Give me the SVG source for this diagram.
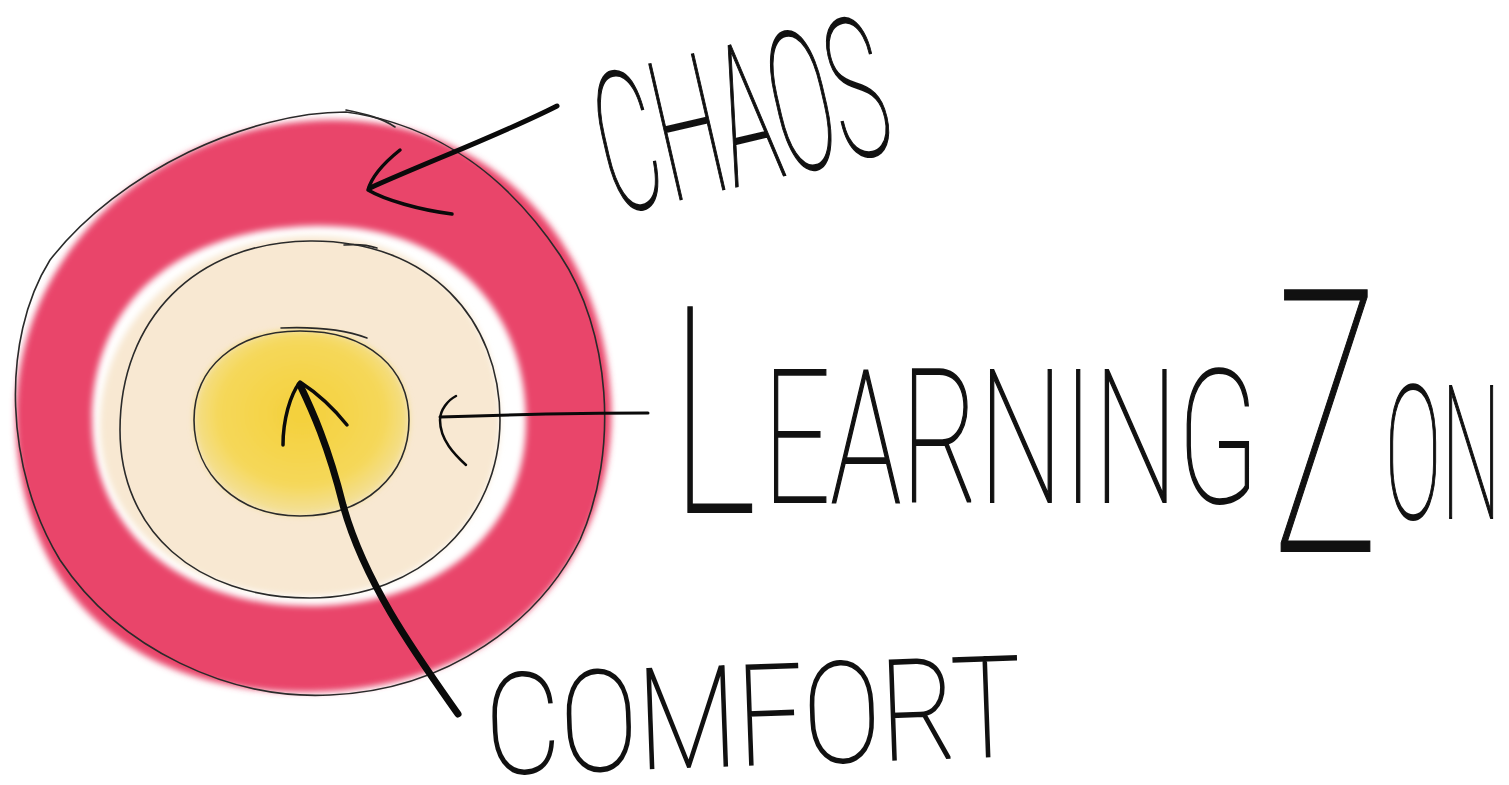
<svg xmlns="http://www.w3.org/2000/svg" width="1509" height="785" viewBox="0 0 1509 785">
<defs>
<filter id="soft" x="-10%" y="-10%" width="120%" height="120%"><feGaussianBlur stdDeviation="3"/></filter>
<radialGradient id="yel" cx="0.5" cy="0.45" r="0.55"><stop offset="0" stop-color="#f4d03a"/><stop offset="0.7" stop-color="#f5d85a"/><stop offset="1" stop-color="#f3e1a0"/></radialGradient>
</defs>
<style>
.ol{fill:none;stroke:#2a2a2a;stroke-width:1.6;stroke-linecap:round}
.ar{fill:none;stroke:#0a0a0a;stroke-linecap:round;stroke-linejoin:round}
.hw{font-family:Roboto,"Liberation Sans Narrow","Liberation Sans",sans-serif;font-weight:100;fill:#111;stroke:#111;stroke-width:1.8}
</style>
<rect width="1509" height="785" fill="#fff"/>
<g id="chaos-zone">
<path d="M330,120 C480,118 602,230 611,400 C618,560 500,690 310,692 C130,694 18,590 16,420 C14,250 160,122 330,120 Z" fill="#e9456b" filter="url(#soft)"/>
<path d="M310,226 C440,222 525,300 526,420 C527,530 440,606 310,606 C180,606 92,530 92,420 C92,300 180,230 310,226 Z" fill="#ffffff" filter="url(#soft)"/>
<path class="ol" d="M346,112 C250,112 120,170 50,260 C0,340 5,470 60,560 C120,650 230,700 330,695 C450,690 540,620 580,540 C620,450 610,330 560,255 C510,180 440,125 346,112 Z"/>
<path class="ol" d="M346,110 C365,114 382,118 395,127"/>
</g>
<g id="learning-zone">
<path d="M310,236 C430,234 500,320 500,420 C500,520 420,596 310,596 C190,596 100,530 100,425 C100,320 190,238 310,236 Z" fill="#f8e8d2" filter="url(#soft)"/>
<path class="ol" d="M310,241 C430,240 500,320 500,420 C500,520 420,598 310,598 C195,598 120,530 120,430 C120,320 195,242 310,241 Z"/>
<path class="ol" d="M344,245 C356,244 368,245 377,248"/>
</g>
<g id="comfort-zone">
<path d="M300,330 C370,330 410,370 409,420 C408,475 365,516 300,516 C240,516 195,475 194,422 C193,368 235,330 300,330 Z" fill="url(#yel)" filter="url(#soft)"/>
<path class="ol" d="M300,331 C370,331 409,370 409,420 C409,475 365,516 300,516 C238,516 194,475 194,420 C194,368 235,331 300,331 Z"/>
<path class="ol" d="M281,328 C305,327 340,328 367,338"/>
</g>
<g id="connectors">
<path class="ar" stroke-width="5" d="M557,106 C500,135 420,165 370,188"/>
<path class="ar" stroke-width="3.5" d="M400,150 C385,162 372,175 368,190 C385,200 420,210 452,214"/>
<path class="ar" stroke-width="3" d="M648,413 C600,413 500,415 440,417"/>
<path class="ar" stroke-width="2.5" d="M456,396 C448,400 440,410 440,420 C440,440 455,455 466,465"/>
<path class="ar" stroke-width="7" d="M458,714 C420,660 365,585 343,505 C328,445 312,410 300,385"/>
<path class="ar" stroke-width="3.5" d="M283,445 C283,420 290,395 300,382 C320,395 335,410 347,425"/>
</g>
<g id="label-chaos">
<text class="hw" transform="translate(756,182) rotate(-13)" text-anchor="middle" font-size="195" textLength="292" lengthAdjust="spacingAndGlyphs">CHAOS</text>
</g>
<g id="label-learning">
<text class="hw"><tspan x="672" y="512" font-size="288" textLength="84" lengthAdjust="spacingAndGlyphs">L</tspan><tspan x="763" y="502" font-size="185" textLength="496" lengthAdjust="spacingAndGlyphs">EARNING</tspan><tspan x="1262" y="502" font-size="20"> </tspan><tspan x="1273" y="551" font-size="367" textLength="105" lengthAdjust="spacingAndGlyphs">Z</tspan><tspan x="1385" y="518" font-size="185" textLength="116" lengthAdjust="spacingAndGlyphs">ON</tspan></text>
</g>
<g id="label-comfort">
<text class="hw" transform="translate(487,774) rotate(-2)" font-size="140" textLength="536" lengthAdjust="spacingAndGlyphs">COMFORT</text>
</g>
</svg>
